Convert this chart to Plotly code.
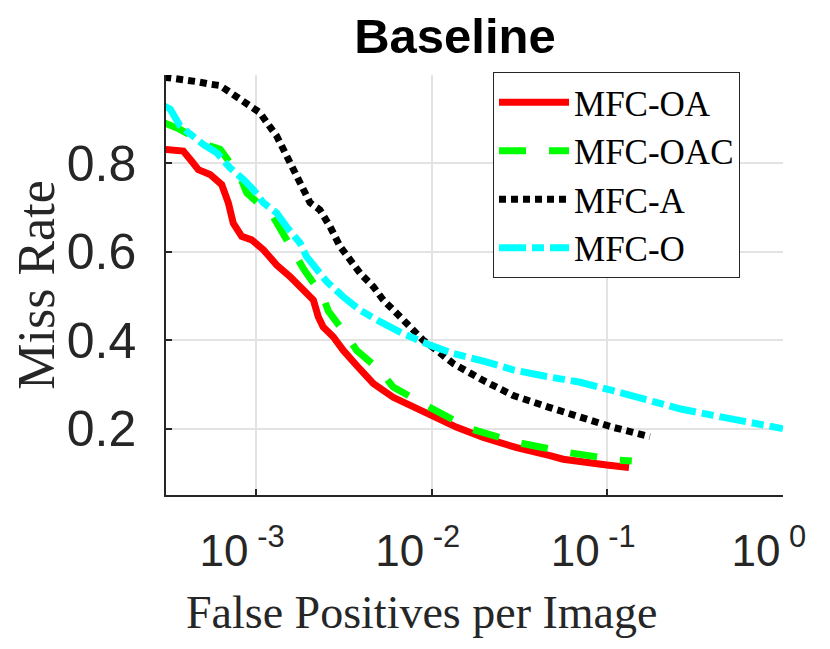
"""Miss rate vs FPPI curves, baseline setting."""

import plotly.graph_objects as go

# false positives per image / miss rate
oa_fppi = [3.0e-4, 3.85e-4, 4.30e-4, 4.69e-4, 5.47e-4, 6.37e-4, 6.95e-4, 7.41e-4, 8.28e-4, 9.44e-4,
           1.10e-3, 1.31e-3, 1.56e-3, 1.86e-3, 2.12e-3, 2.26e-3, 2.41e-3, 2.75e-3, 3.14e-3, 3.74e-3,
           4.66e-3, 6.04e-3, 8.22e-3, 1.0e-2, 1.39e-2, 1.97e-2, 3.05e-2, 4.72e-2, 5.61e-2, 9.93e-2, 0.133]
oa_miss = [0.832, 0.828, 0.805, 0.786, 0.775, 0.752, 0.711, 0.665, 0.635, 0.627,
           0.605, 0.570, 0.544, 0.514, 0.491, 0.453, 0.430, 0.408, 0.377, 0.343,
           0.302, 0.271, 0.245, 0.230, 0.203, 0.180, 0.157, 0.139, 0.131, 0.118, 0.112]

oac_fppi = [3.0e-4, 3.53e-4, 3.69e-4, 5.00e-4, 5.47e-4, 6.24e-4, 8.09e-4, 8.85e-4, 1.25e-3, 1.70e-3,
            1.86e-3, 2.41e-3, 2.58e-3, 3.43e-3, 3.74e-3, 5.08e-3, 6.04e-3, 9.37e-3, 1.65e-2, 3.05e-2,
            6.00e-2, 0.116, 0.138]
oac_miss = [0.892, 0.880, 0.877, 0.847, 0.839, 0.832, 0.771, 0.733, 0.680, 0.589,
            0.562, 0.498, 0.466, 0.400, 0.377, 0.332, 0.294, 0.252, 0.200, 0.169,
            0.146, 0.129, 0.127]

a_fppi = [3.0e-4, 3.85e-4, 4.59e-4, 5.34e-4, 6.24e-4, 7.10e-4, 8.09e-4, 9.23e-4, 1.05e-3, 1.15e-3,
          1.31e-3, 1.43e-3, 1.56e-3, 1.70e-3, 1.86e-3, 2.03e-3, 2.31e-3, 2.64e-3, 3.01e-3, 3.43e-3,
          3.91e-3, 4.66e-3, 5.30e-3, 6.32e-3, 7.52e-3, 8.96e-3, 1.07e-2, 1.33e-2, 1.97e-2, 2.92e-2,
          4.52e-2, 7.00e-2, 0.108, 0.175]
a_miss = [0.995, 0.991, 0.985, 0.980, 0.976, 0.961, 0.945, 0.930, 0.915, 0.893,
          0.862, 0.832, 0.802, 0.771, 0.741, 0.711, 0.695, 0.657, 0.612, 0.582,
          0.552, 0.521, 0.491, 0.461, 0.430, 0.400, 0.377, 0.347, 0.309, 0.275,
          0.250, 0.226, 0.203, 0.182]

o_fppi = [3.0e-4, 3.24e-4, 3.69e-4, 4.21e-4, 5.00e-4, 5.97e-4, 7.10e-4, 8.45e-4, 9.64e-4, 1.10e-3,
          1.31e-3, 1.49e-3, 1.78e-3, 1.94e-3, 2.21e-3, 2.52e-3, 3.14e-3, 3.91e-3, 5.08e-3, 6.89e-3,
          9.78e-3, 1.33e-2, 1.97e-2, 2.92e-2, 4.52e-2, 7.00e-2, 0.108, 0.168, 0.259, 0.402,
          0.622, 1.0]
o_miss = [0.930, 0.923, 0.885, 0.866, 0.843, 0.824, 0.790, 0.764, 0.741, 0.711,
          0.688, 0.657, 0.620, 0.589, 0.559, 0.533, 0.498, 0.468, 0.442, 0.415,
          0.389, 0.370, 0.353, 0.333, 0.318, 0.305, 0.286, 0.264, 0.245, 0.230,
          0.215, 0.200]

x_ticks = [1e-3, 1e-2, 1e-1, 1]
x_ticktext = ["10<sup> -3</sup>", "10<sup> -2</sup>", "10<sup> -1</sup>", "10<sup> 0</sup>"]
y_ticks = [0.2, 0.4, 0.6, 0.8]
y_ticktext = ["0.2", "0.4", "0.6", "0.8"]

series = [
    ("MFC-OA", oa_fppi, oa_miss, "#FF0000", "solid"),
    ("MFC-OAC", oac_fppi, oac_miss, "#00FF00", "27px,23px"),
    ("MFC-A", a_fppi, a_miss, "#000000", "7px,5px"),
    ("MFC-O", o_fppi, o_miss, "#00FFFF", "27px,6px,12px,6px"),
]

fig = go.Figure()
for name, xs, ys, color, dash in series:
    fig.add_trace(go.Scatter(x=xs, y=ys, mode="lines", name=name,
                             line=dict(color=color, width=7, dash=dash)))

# the page body adds an 8px offset, so the figure is 8px smaller than the window
W, H = 822, 641
axis_col = "#262626"
fig.update_layout(
    width=W,
    height=H,
    margin=dict(l=158, r=47, t=67, b=154, autoexpand=False),
    paper_bgcolor="#FFFFFF",
    plot_bgcolor="#FFFFFF",
    title=dict(text="<b>Baseline</b>", x=447 / W, xref="container", xanchor="center",
               y=1 - 28 / H, yref="container", yanchor="middle", automargin=False,
               font=dict(family="Liberation Sans", size=49, color="#000000")),
    legend=dict(x=0.530, y=1.007, xanchor="left", yanchor="top",
                bgcolor="#FFFFFF", bordercolor=axis_col, borderwidth=1,
                font=dict(family="Liberation Serif", size=35, color="#000000"),
                itemwidth=70, tracegroupgap=0),
)
fig.add_annotation(text="False Positives per Image", xref="paper", yref="paper",
                   x=(421 - 166) / 617, y=-0.28, xanchor="center", yanchor="middle",
                   showarrow=False,
                   font=dict(family="Liberation Serif", size=46, color=axis_col))
fig.update_xaxes(
    type="log", range=[-3.513, 0.001], automargin=False,
    tickvals=x_ticks, ticktext=x_ticktext,
    ticks="inside", ticklen=6, tickcolor=axis_col, tickwidth=1.5,
    showline=True, linecolor=axis_col, linewidth=1.5,
    showgrid=True, gridcolor="#E3E3E3", gridwidth=1.5, zeroline=False,
    tickfont=dict(family="Liberation Sans", size=44, color=axis_col),
    ticklabelstandoff=16, ticklabelshift=-14,
)
fig.update_yaxes(
    range=[0.05, 1.0], automargin=False,
    tickvals=y_ticks, ticktext=y_ticktext,
    ticks="inside", ticklen=6, tickcolor=axis_col, tickwidth=1.5,
    showline=True, linecolor=axis_col, linewidth=1.5,
    showgrid=True, gridcolor="#E3E3E3", gridwidth=1.5, zeroline=False,
    tickfont=dict(family="Liberation Sans", size=50, color=axis_col),
    ticklabelstandoff=18,
    title=dict(text="Miss Rate", standoff=34,
               font=dict(family="Liberation Serif", size=52, color=axis_col)),
)

fig.write_html("out.html")
